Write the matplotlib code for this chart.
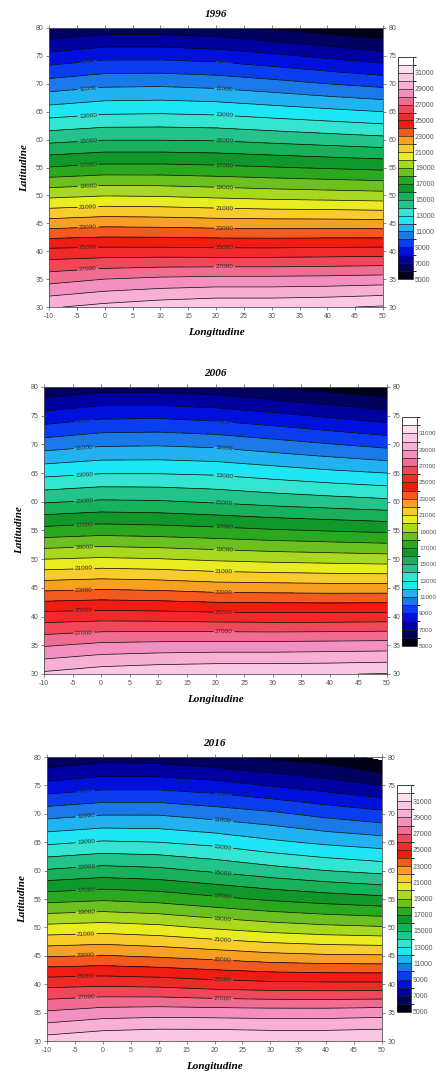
import numpy as np
import matplotlib
matplotlib.use("Agg")
import matplotlib.pyplot as plt
from matplotlib.colors import ListedColormap, BoundaryNorm
from contourpy import contour_generator

plt.rcParams["axes.unicode_minus"] = False

# Grid nodes (degrees)
lons = [-10, 0, 10, 20, 30, 40, 50]
lats = [30, 35, 40, 45, 50, 55, 60, 65, 70, 75, 80]

# Gridded values, one row per latitude (south -> north), one column per longitude
grid_1996 = [
    [29900, 30300, 30600, 30800, 30800, 30900, 31100],
    [27600, 28000, 28200, 28300, 28300, 28350, 28450],
    [25300, 25400, 25400, 25350, 25350, 25400, 25450],
    [22450, 22650, 22600, 22500, 22450, 22450, 22400],
    [19750, 19950, 19900, 19750, 19600, 19500, 19400],
    [17050, 17300, 17300, 17200, 17050, 16900, 16750],
    [14700, 14950, 14950, 14900, 14700, 14500, 14300],
    [12500, 12800, 12850, 12750, 12500, 12250, 12000],
    [10400, 10750, 10800, 10650, 10350, 10000, 9700],
    [8300, 8700, 8700, 8550, 8200, 7800, 7400],
    [6100, 6500, 6500, 6300, 5900, 5500, 5100],
]

grid_2006 = [
    [30200, 30600, 30800, 30900, 30900, 30950, 31050],
    [27900, 28250, 28350, 28400, 28400, 28450, 28500],
    [25500, 25600, 25550, 25450, 25400, 25400, 25450],
    [22700, 22850, 22750, 22550, 22500, 22450, 22450],
    [20000, 20150, 20050, 19850, 19700, 19600, 19500],
    [17350, 17550, 17450, 17300, 17100, 16950, 16800],
    [14900, 15150, 15100, 14900, 14650, 14450, 14250],
    [12700, 12950, 12950, 12850, 12550, 12250, 12000],
    [10500, 10850, 10900, 10750, 10400, 10050, 9700],
    [8350, 8750, 8800, 8600, 8250, 7850, 7450],
    [6200, 6600, 6600, 6400, 6000, 5600, 5200],
]

grid_2016 = [
    [30500, 30850, 31000, 31000, 30900, 30900, 31000],
    [28150, 28500, 28600, 28550, 28500, 28500, 28600],
    [25700, 25800, 25700, 25450, 25300, 25250, 25250],
    [22900, 23050, 22850, 22600, 22300, 22150, 22100],
    [20300, 20450, 20250, 19850, 19500, 19250, 19100],
    [17650, 17850, 17650, 17250, 16850, 16550, 16300],
    [15100, 15400, 15250, 14850, 14400, 14000, 13700],
    [12800, 13100, 13000, 12700, 12200, 11800, 11500],
    [10600, 10900, 10900, 10550, 10200, 9700, 9300],
    [8300, 8650, 8650, 8400, 7950, 7500, 7000],
    [6200, 6600, 6500, 6200, 5800, 5500, 4700],
]

years = ["1996", "2006", "2016"]
grids = [grid_1996, grid_2006, grid_2016]

# Contour levels and colour bands (5000 .. 33000 every 1000)
levels = np.arange(5000, 34000, 1000)
label_levels = np.arange(9000, 28000, 2000)
plain_levels = np.array([v for v in levels if v not in label_levels])
cbar_ticks = np.arange(5000, 32000, 2000)
band_colors = [
    "#000018", "#00005e", "#0000a0", "#0010dc", "#0a3cf0", "#1a78e8",
    "#22b2f2", "#1ee6f4", "#34e6d2", "#22c48c", "#18b05a", "#10982a",
    "#2aa81e", "#6cc020", "#a8d820", "#e8ec20", "#f8cc2c", "#f8a024",
    "#f25a1e", "#f01c12", "#f02a28", "#f04858", "#f06c90", "#f490c0",
    "#f8b0d4", "#fac8e2", "#fce0ee", "#ffffff",
]
cmap = ListedColormap(band_colors)
norm = BoundaryNorm(levels, cmap.N)

# Figure layout (pixel boxes converted to figure fractions)
W, H = 436, 1074
axes_px = [(49, 28, 383, 307), (44, 387, 387, 674), (47, 757, 382, 1041)]
cbar_px = [(398, 57, 413, 279), (402, 417, 417, 646), (397, 785, 411, 1012)]
cbar_fs = [5, 4.5, 5]
label_lons = [-3, 21.5]
label_fs = 4.6
line_w = 0.5

serif = ["Liberation Serif", "DejaVu Serif"]
sans = ["Liberation Sans", "DejaVu Sans"]
tick_col = "#555555"

fig = plt.figure(figsize=(W / 100, H / 100), dpi=100)


def frac(box):
    x0, y0, x1, y1 = box
    return [x0 / W, 1 - y1 / H, (x1 - x0) / W, (y1 - y0) / H]


def labelled_contours(ax, Z):
    """Draw the labelled contour levels with gaps where the labels sit."""
    gen = contour_generator(np.asarray(lons, float), np.asarray(lats, float), Z)
    to_data = ax.transData.inverted()
    for lev in label_levels:
        text = "%d" % lev
        hw = len(text) * label_fs * 0.56 * fig.dpi / 72 / 2 + 1.5
        for seg in gen.lines(lev):
            if len(seg) < 2:
                continue
            disp = ax.transData.transform(seg)
            d = np.hypot(*np.diff(disp, axis=0).T)
            s = np.concatenate([[0.0], np.cumsum(d)])
            xs = seg[:, 0]
            centres = []
            for lo in label_lons:
                for i in range(len(xs) - 1):
                    if (xs[i] - lo) * (xs[i + 1] - lo) <= 0 and xs[i] != xs[i + 1]:
                        t = (lo - xs[i]) / (xs[i + 1] - xs[i])
                        centres.append(s[i] + t * d[i])
                        break
            centres = sorted(c for c in centres if hw < c < s[-1] - hw)

            def pt(v):
                return np.array([np.interp(v, s, disp[:, 0]),
                                 np.interp(v, s, disp[:, 1])])

            # visible stretches between the label gaps
            bounds = [0.0]
            for c in centres:
                bounds += [c - hw, c + hw]
            bounds.append(s[-1])
            for a, b in zip(bounds[0::2], bounds[1::2]):
                if b <= a:
                    continue
                inner = s[(s > a) & (s < b)]
                sv = np.concatenate([[a], inner, [b]])
                pts = np.array([pt(v) for v in sv])
                dat = to_data.transform(pts)
                ax.plot(dat[:, 0], dat[:, 1], color="k", lw=line_w,
                        solid_capstyle="butt")

            for c in centres:
                p1, p2 = pt(c - hw), pt(c + hw)
                ang = np.degrees(np.arctan2(p2[1] - p1[1], p2[0] - p1[0]))
                if ang > 90:
                    ang -= 180
                elif ang < -90:
                    ang += 180
                cx, cy = to_data.transform(pt(c))
                ax.text(cx, cy, text, rotation=ang, rotation_mode="anchor",
                        ha="center", va="center", fontsize=label_fs,
                        color="#2a2a2a", family=sans)


for year, grid, abox, cbox, cfs in zip(years, grids, axes_px, cbar_px, cbar_fs):
    ax = fig.add_axes(frac(abox))
    ax.set_xlim(-10, 50)
    ax.set_ylim(30, 80)
    Z = np.array(grid, dtype=float)
    cf = ax.contourf(lons, lats, Z, levels=levels, cmap=cmap, norm=norm)
    ax.contour(lons, lats, Z, levels=plain_levels, colors="k", linewidths=line_w)
    ax.set_xlim(-10, 50)
    ax.set_ylim(30, 80)
    labelled_contours(ax, Z)

    ax.set_xticks(np.arange(-10, 51, 5))
    ax.set_yticks(np.arange(30, 81, 5))
    ax.tick_params(direction="out", length=2.5, width=0.5, colors=tick_col,
                   labelsize=5, pad=1.5, top=True, right=True, labelright=True)
    for lab in ax.get_xticklabels() + ax.get_yticklabels():
        lab.set_family(sans)
    for sp in ax.spines.values():
        sp.set_linewidth(0.6)
        sp.set_color("#555555")

    ax.set_title(year, fontsize=8, fontweight="bold", style="italic",
                 family=serif, pad=8)
    ax.set_xlabel("Longitudine", fontsize=8, fontweight="bold", style="italic",
                  family=serif, labelpad=6)
    ax.set_ylabel("Latitudine", fontsize=8, fontweight="bold", style="italic",
                  family=serif, labelpad=5)

    cax = fig.add_axes(frac(cbox))
    cb = fig.colorbar(cf, cax=cax, ticks=cbar_ticks, drawedges=True)
    cb.outline.set_linewidth(0.6)
    cb.outline.set_edgecolor("#222222")
    cb.dividers.set_color("#222222")
    cb.dividers.set_linewidth(0.5)
    cax.tick_params(length=0, labelsize=cfs, colors=tick_col, pad=1.5)
    for lab in cax.get_yticklabels():
        lab.set_family(sans)

fig.savefig("out.png", dpi=100)
